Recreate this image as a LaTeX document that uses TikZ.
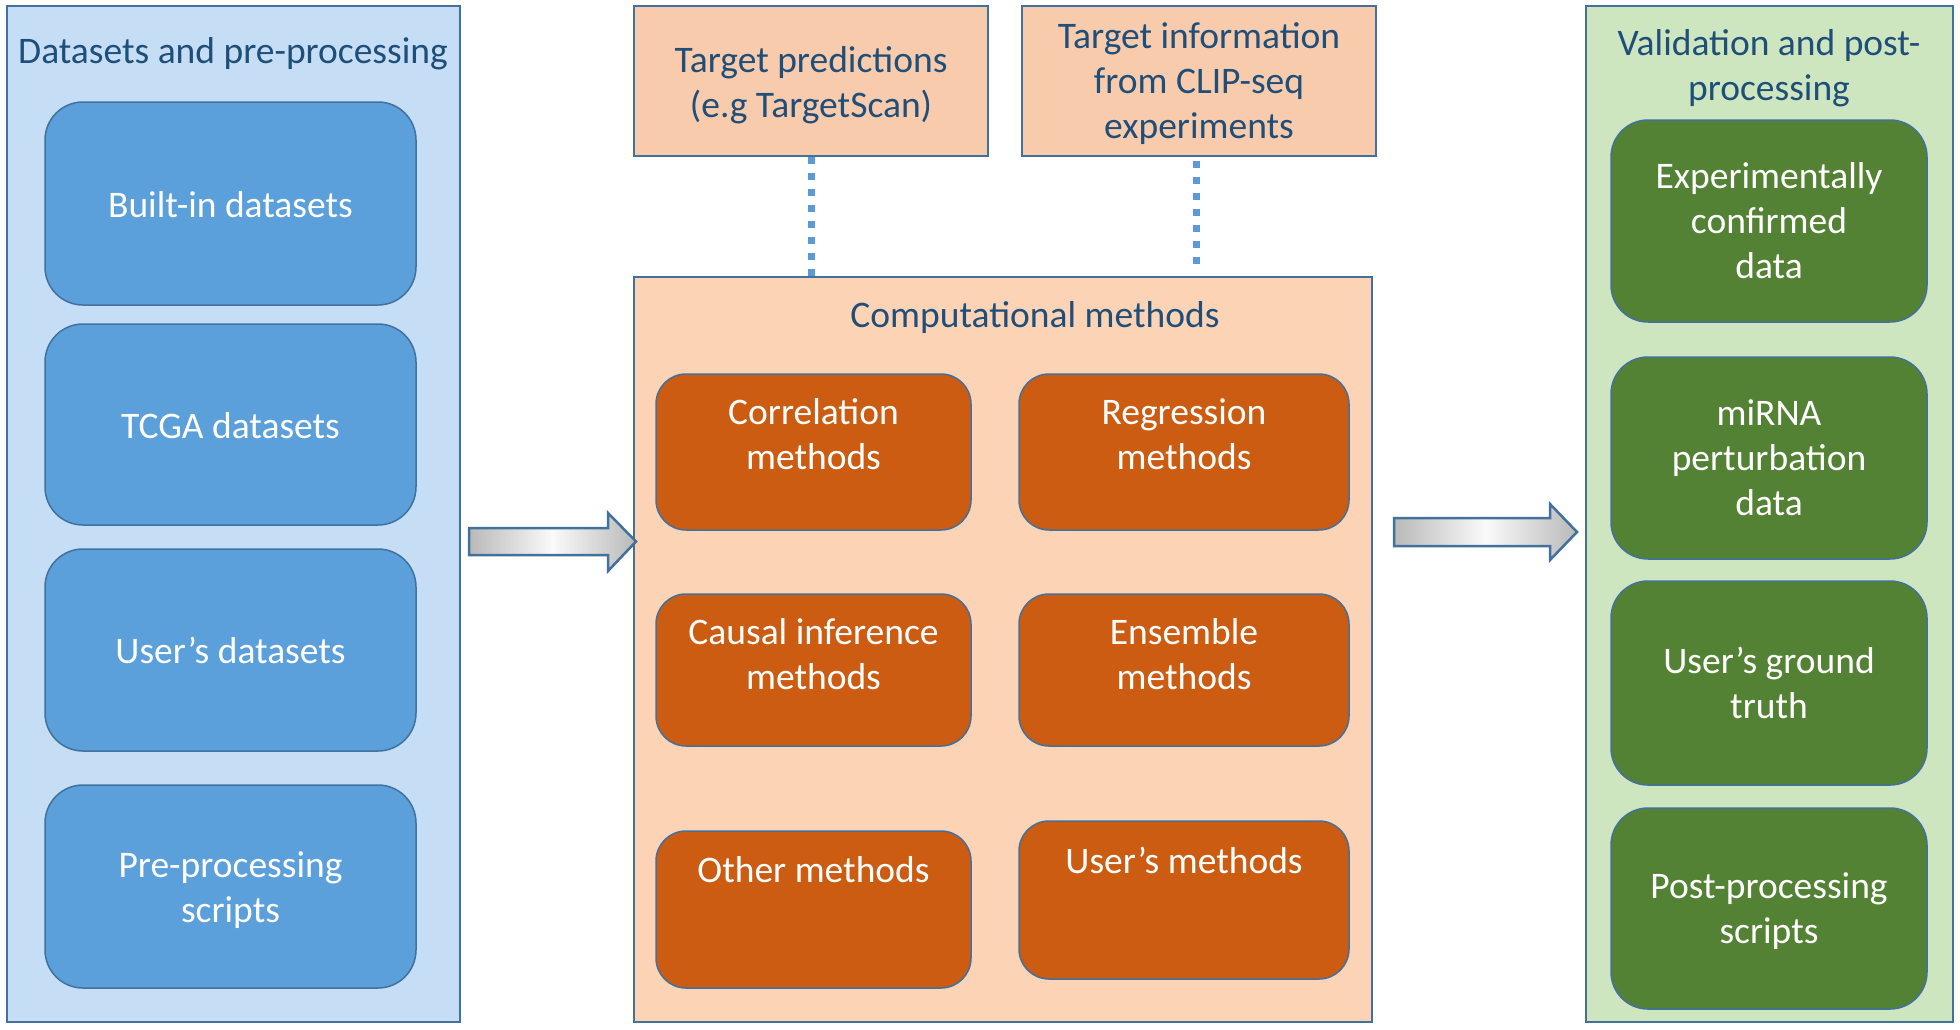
\documentclass[tikz,border=0pt]{standalone}
\usepackage{fontspec}
\setmainfont{Carlito}
\definecolor{bordc}{HTML}{41719C}
\definecolor{darktext}{HTML}{1F4E79}
\definecolor{bluelight}{HTML}{C5DEF5}
\definecolor{bluebox}{HTML}{5B9FDB}
\definecolor{greenlight}{HTML}{CDE6BF}
\definecolor{greenbox}{HTML}{548235}
\definecolor{peachtop}{HTML}{F8CBAD}
\definecolor{peachmid}{HTML}{FDD3B5}
\definecolor{orangebox}{HTML}{CB5C12}
\definecolor{dotblue}{HTML}{5B9BD5}
\newcommand{\otext}[3]{\parbox[c][#1][t]{300pt}{\centering\rule{0pt}{#2}#3}}
\newcommand{\lowered}[2]{\raisebox{-#1}[\height][\depth]{\begin{tabular}{@{}c@{}}#2\end{tabular}}}
\newcommand{\lowone}[2]{\raisebox{-#1}[\height][\depth]{#2}}
\begin{document}
\begin{tikzpicture}[x=1pt,y=-1pt,
  every node/.style={font=\fontsize{37.5}{45}\selectfont},
  panel/.style={draw=bordc, line width=2pt, inner sep=0pt},
  titletext/.style={text=darktext, align=center, inner sep=0pt},
  bluerbox/.style={draw=bordc, line width=1.5pt, fill=bluebox, rounded corners=38pt,
    text=white, align=center, inner sep=0pt, minimum width=371pt},
  greenrbox/.style={draw=bordc, line width=1.5pt, fill=greenbox, rounded corners=37pt,
    text=white, align=center, inner sep=0pt, minimum width=316pt},
  orangerbox/.style={draw=bordc, line width=1.5pt, fill=orangebox, rounded corners=30pt,
    text=white, inner sep=0pt},
  topbox/.style={draw=bordc, line width=2pt, fill=peachtop, text=darktext,
    inner sep=0pt, minimum width=354pt, minimum height=150pt},
  dotline/.style={draw=dotblue, line width=7pt, dash pattern=on 7pt off 9pt},
  bigarrow/.style={draw=bordc, line width=2.5pt, left color=gray!55, right color=gray!55,
    middle color=white!96!gray, line join=miter}
]
\useasboundingbox (0,0) rectangle (1960,1029);
\fill[white] (0,0) rectangle (1960,1029);

% ---- left panel ----
\node[panel, fill=bluelight, minimum width=453pt, minimum height=1016pt] (leftpanel) at (233.5,514) {};
\node[titletext] (lefttitle) at (233,54) {Datasets and pre-processing};
\node[bluerbox, minimum height=203pt] (builtin) at (230.5,203.5) {\lowone{1.5pt}{Built-in datasets}};
\node[bluerbox, minimum height=201pt] (tcga) at (230.5,424.5) {\lowone{1.5pt}{TCGA datasets}};
\node[bluerbox, minimum height=202pt] (userdata) at (230.5,650) {User’s datasets};
\node[bluerbox, minimum height=203pt] (prescripts) at (230.5,886.5) {\lowered{4pt}{Pre-processing\\scripts}};

% ---- centre ----
\node[topbox] (tpred) at (811,81) {\lowered{5pt}{Target predictions\\(e.g TargetScan)}};
\node[topbox] (tinfo) at (1199,81) {\lowered{3pt}{Target information\\from CLIP-seq\\experiments}};
\node[panel, fill=peachmid, minimum width=738pt, minimum height=745pt] (comp) at (1003,649.5) {};
\node[titletext] (comptitle) at (1035,317) {Computational methods};

\node[orangerbox, minimum width=315pt, minimum height=156pt] (corr) at (813.5,452)
  {\otext{156pt}{50pt}{Correlation\\methods}};
\node[orangerbox, minimum width=330pt, minimum height=156pt] (regr) at (1184,452)
  {\otext{156pt}{50pt}{Regression\\methods}};
\node[orangerbox, minimum width=315pt, minimum height=152pt] (caus) at (813.5,670)
  {\otext{152pt}{50pt}{Causal inference\\methods}};
\node[orangerbox, minimum width=330pt, minimum height=152pt] (ens) at (1184,670)
  {\otext{152pt}{50pt}{Ensemble\\methods}};
\node[orangerbox, minimum width=315pt, minimum height=157pt] (other) at (813.5,909.5)
  {\otext{157pt}{51pt}{Other methods}};
\node[orangerbox, minimum width=330pt, minimum height=158pt] (usrm) at (1184,900)
  {\otext{158pt}{52.5pt}{User’s methods}};

\draw[dotline] (tpred.south) -- (tpred.south |- comp.north);
\draw[dotline] ([xshift=-3pt,yshift=-4pt]tinfo.south) -- ([xshift=-3pt,yshift=3pt]tinfo.south |- comp.north);

% ---- right panel ----
\node[panel, fill=greenlight, minimum width=367pt, minimum height=1016pt] (rightpanel) at (1769.5,514) {};
\node[titletext] (righttitle) at (1769,68) {Validation and post-\\processing};
\node[greenrbox, minimum height=202pt] (expconf) at (1769,221) {\lowered{3.5pt}{Experimentally\\confirmed\\data}};
\node[greenrbox, minimum height=202pt] (mirna) at (1769,458) {\lowered{3.5pt}{miRNA\\perturbation\\data}};
\node[greenrbox, minimum height=204pt] (ugt) at (1769,683) {\lowered{4pt}{User’s ground\\truth}};
\node[greenrbox, minimum height=201pt] (postscripts) at (1769,908.5) {\lowered{3.5pt}{Post-processing\\scripts}};

% ---- block arrows ----
\path[bigarrow] (469,528) -- (608,528) -- (608,513) -- (636,541.5) -- (608,571) -- (608,555) -- (469,555) -- cycle;
\path[bigarrow] (1394,518) -- (1550,518) -- (1550,504) -- (1577,532) -- (1550,560) -- (1550,546) -- (1394,546) -- cycle;
\end{tikzpicture}
\end{document}
